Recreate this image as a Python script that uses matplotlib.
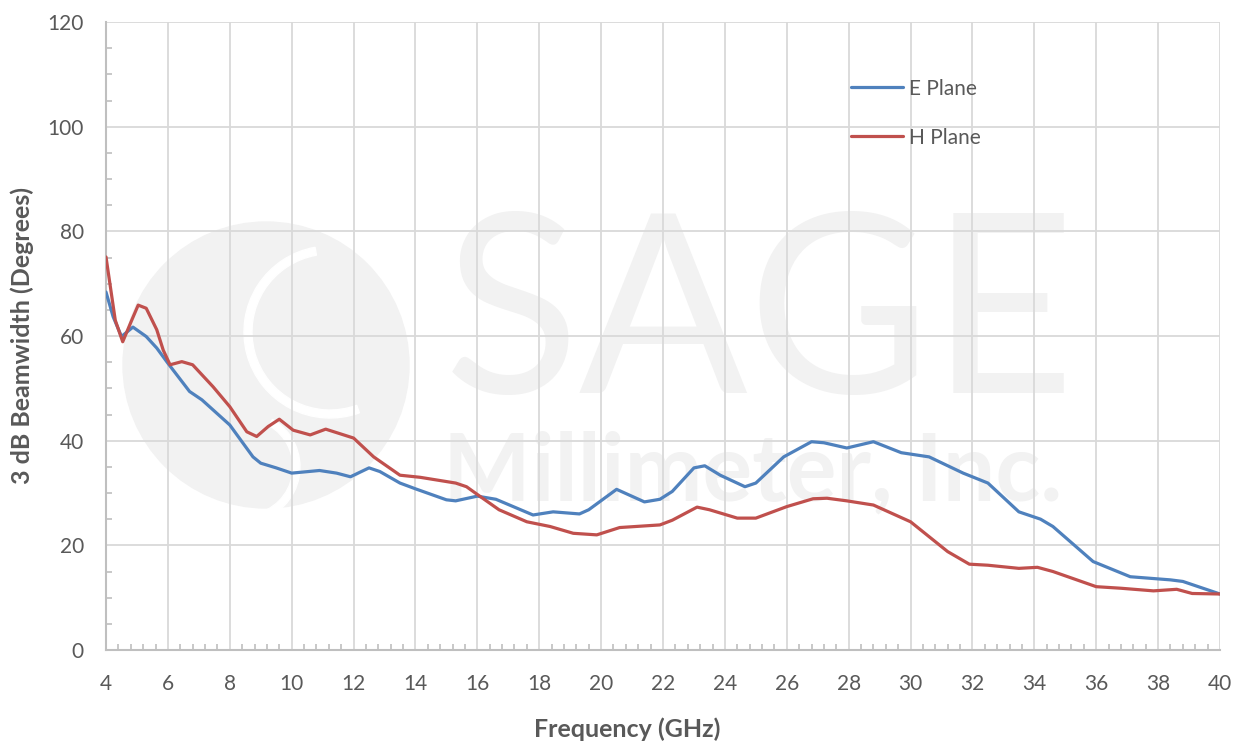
import numpy as np
import matplotlib.pyplot as plt
from matplotlib.patches import Circle, Wedge
from matplotlib.ticker import MultipleLocator

# E plane 3 dB beamwidth (deg) vs frequency (GHz)
freq_e = [4.0, 4.23, 4.5, 4.87, 5.3, 5.64, 6.0, 6.7, 7.1, 8.0, 8.43, 8.75, 9.0,
          9.5, 10.0, 10.9, 11.45, 11.9, 12.5, 12.85, 13.5, 14.0, 15.0, 15.3,
          16.0, 16.6, 17.8, 18.45, 19.3, 19.6, 20.5, 21.4, 21.9, 22.3, 23.0,
          23.35, 23.85, 24.65, 25.0, 25.9, 26.8, 27.2, 27.94, 28.8, 29.7, 30.6,
          31.7, 32.5, 33.5, 34.2, 34.6, 35.9, 37.1, 38.4, 38.8, 40.0]
bw_e = [68.4, 63.7, 59.9, 61.7, 59.9, 57.7, 54.8, 49.4, 47.8, 43.0, 39.5, 36.9, 35.7,
        34.8, 33.8, 34.3, 33.8, 33.1, 34.8, 34.1, 31.9, 30.8, 28.7, 28.5,
        29.4, 28.8, 25.8, 26.4, 26.0, 26.8, 30.7, 28.3, 28.8, 30.3, 34.8,
        35.2, 33.4, 31.2, 31.9, 36.9, 39.8, 39.6, 38.6, 39.8, 37.7, 36.9,
        33.8, 31.9, 26.4, 25.0, 23.6, 16.9, 14.0, 13.4, 13.1, 10.7]

# H plane
freq_h = [4.0, 4.3, 4.54, 4.83, 5.04, 5.3, 5.64, 5.85, 6.07, 6.45, 6.8, 7.46, 8.0,
          8.55, 8.87, 9.24, 9.6, 10.05, 10.6, 11.1, 12.0, 12.65, 13.5, 14.15,
          15.3, 15.65, 16.1, 16.7, 17.6, 18.35, 19.1, 19.86, 20.6, 21.9, 22.3,
          23.1, 23.5, 24.4, 25.0, 26.0, 26.85, 27.3, 27.94, 28.8, 30.0, 31.2,
          31.9, 32.5, 33.5, 34.1, 34.6, 36.0, 36.8, 37.85, 38.6, 39.1, 40.0]
bw_h = [75.1, 63.0, 58.9, 63.0, 65.9, 65.3, 61.2, 57.3, 54.5, 55.1, 54.5, 50.3, 46.5,
        41.7, 40.8, 42.7, 44.1, 42.0, 41.1, 42.2, 40.5, 36.9, 33.4, 33.0,
        31.9, 31.2, 29.3, 26.8, 24.5, 23.6, 22.3, 22.0, 23.4, 23.9, 24.8,
        27.3, 26.8, 25.2, 25.2, 27.4, 28.9, 29.0, 28.5, 27.7, 24.5, 18.8,
        16.4, 16.2, 15.6, 15.8, 15.0, 12.1, 11.8, 11.3, 11.6, 10.8, 10.7]

blue = '#4f81bd'
red = '#c0504d'
txt = '#595959'

plt.rcParams['font.family'] = ['Lato', 'DejaVu Sans']

fig = plt.figure(figsize=(12.44, 7.42), dpi=100)
ax = fig.add_axes([106 / 1244, 92 / 742, 1114 / 1244, 628 / 742])

# watermark (logo + company name), behind the grid
wm = '#f2f2f2'
inch = fig.dpi_scale_trans
ax.add_patch(Circle((2.66, 3.77), 1.43, transform=inch, color=wm, zorder=0.1, clip_on=False))
ax.add_patch(Wedge((3.30, 4.10), 0.86, 100, 290, width=0.08, transform=inch,
                   color='white', zorder=0.15, clip_on=False))
ax.add_patch(Wedge((2.45, 2.75), 0.55, 280, 60, width=0.07, transform=inch,
                   color='white', zorder=0.15, clip_on=False))
ax.text(0.357, 0.47, 'SAGE', fontsize=180, fontweight='normal', color=wm,
        ha='left', va='baseline', zorder=0.1, transform=fig.transFigure)
ax.text(0.356, 0.326, 'Millimeter, Inc.', fontsize=67, fontweight='bold', color=wm,
        ha='left', va='baseline', zorder=0.1, transform=fig.transFigure)

ax.plot(freq_e, bw_e, color=blue, lw=2.3, label='E Plane', zorder=3,
        solid_capstyle='round', solid_joinstyle='round')
ax.plot(freq_h, bw_h, color=red, lw=2.3, label='H Plane', zorder=3,
        solid_capstyle='round', solid_joinstyle='round')

ax.set_xlim(4, 40)
ax.set_ylim(0, 120)
ax.xaxis.set_major_locator(MultipleLocator(2))
ax.xaxis.set_minor_locator(MultipleLocator(0.4))
ax.yaxis.set_major_locator(MultipleLocator(20))
ax.yaxis.set_minor_locator(MultipleLocator(5))
ax.grid(True, which='major', color='#d9d9d9', lw=1.3, zorder=1)
ax.set_axisbelow(True)

for s in ['top', 'right']:
    ax.spines[s].set_visible(False)
for s in ['left', 'bottom']:
    ax.spines[s].set_color('#bfbfbf')
    ax.spines[s].set_linewidth(1.5)

ax.tick_params(which='major', length=0, labelsize=15, labelcolor=txt)
ax.tick_params(axis='x', which='major', pad=17)
ax.tick_params(axis='y', which='major', pad=16)
ax.tick_params(which='minor', direction='in', length=4, width=1.2, color='#bfbfbf')

ax.set_xlabel('Frequency (GHz)', fontsize=18, fontweight='bold', color=txt)
ax.xaxis.set_label_coords(0.468, -0.107)
ax.set_ylabel('3 dB Beamwidth (Degrees)', fontsize=18, fontweight='bold', color=txt)
ax.yaxis.set_label_coords(-0.065, 0.5)

ax.legend(loc='upper left', bbox_to_anchor=(0.669, 0.91), frameon=False, fontsize=15,
          handlelength=2.5, handletextpad=0.25, labelspacing=1.4, borderpad=0,
          borderaxespad=0, labelcolor=txt)

fig.savefig('out.png', dpi=100)
